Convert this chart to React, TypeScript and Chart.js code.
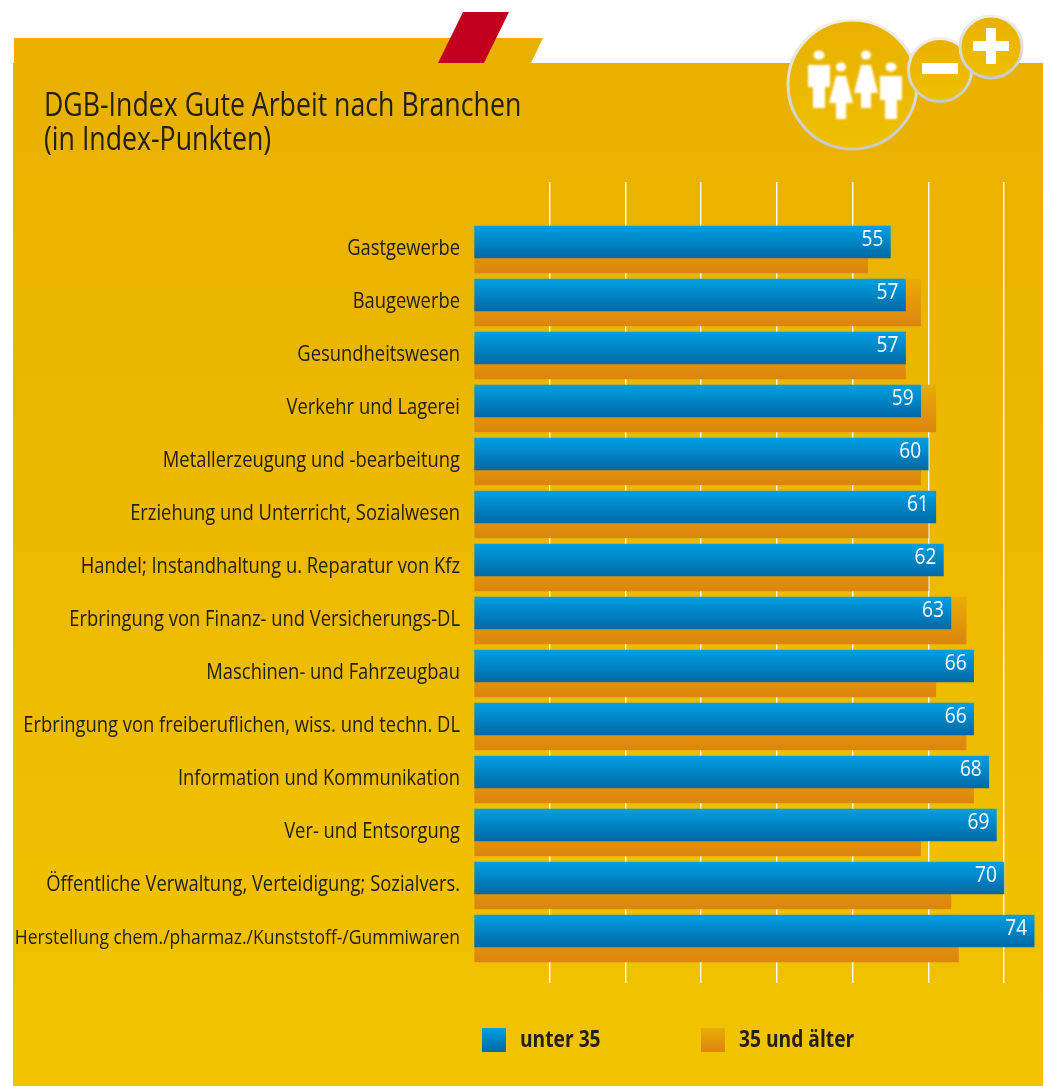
import React, { useEffect, useRef } from "react";
import { Chart, registerables } from "chart.js";

Chart.register(...registerables);

const categories = [
  "Gastgewerbe",
  "Baugewerbe",
  "Gesundheitswesen",
  "Verkehr und Lagerei",
  "Metallerzeugung und -bearbeitung",
  "Erziehung und Unterricht, Sozialwesen",
  "Handel; Instandhaltung u. Reparatur von Kfz",
  "Erbringung von Finanz- und Versicherungs-DL",
  "Maschinen- und Fahrzeugbau",
  "Erbringung von freiberuflichen, wiss. und techn. DL",
  "Information und Kommunikation",
  "Ver- und Entsorgung",
  "Öffentliche Verwaltung, Verteidigung; Sozialvers.",
  "Herstellung chem./pharmaz./Kunststoff-/Gummiwaren",
];
const unter35 = [55, 57, 57, 59, 60, 61, 62, 63, 66, 66, 68, 69, 70, 74];
const ab35 = [52, 59, 57, 61, 59, 60, 60, 65, 61, 65, 66, 59, 63, 64];
const seriesNames = ["unter 35", "35 und älter"];
const titleLines = ["DGB-Index Gute Arbeit nach Branchen", "(in Index-Punkten)"];

const FONT = '"Open Sans", sans-serif';
const LABEL_SQUEEZE = 0.875;

const backdrop = {
  id: "backdrop",
  beforeDraw(chart: any) {
    const c = chart.ctx;
    c.save();
    const bg = c.createLinearGradient(0, 38, 0, 1086);
    bg.addColorStop(0, "#e8b000");
    bg.addColorStop(1, "#f1c300");
    c.fillStyle = bg;
    c.beginPath();
    c.moveTo(14, 38);
    c.lineTo(543, 38);
    c.lineTo(531, 63);
    c.lineTo(1043, 63);
    c.lineTo(1043, 1086);
    c.lineTo(13, 1086);
    c.lineTo(13, 63);
    c.lineTo(14, 63);
    c.closePath();
    c.fill();
    c.fillStyle = "#c4001f";
    c.beginPath();
    c.moveTo(463, 12);
    c.lineTo(509, 12);
    c.lineTo(484, 63);
    c.lineTo(438, 63);
    c.closePath();
    c.fill();

    const disc = (x: number, y: number, r: number) => {
      c.beginPath();
      c.arc(x, y, r - 1.5, 0, Math.PI * 2);
      const g = c.createLinearGradient(x, y - r, x, y + r);
      g.addColorStop(0, "#e8b000");
      g.addColorStop(1, "#eec000");
      c.fillStyle = g;
      c.fill();
      c.lineWidth = 3;
      const s = c.createLinearGradient(x, y - r, x, y + r);
      s.addColorStop(0, "#f0f0ec");
      s.addColorStop(1, "#c8c8c4");
      c.strokeStyle = s;
      c.stroke();
    };
    disc(852.5, 84.5, 66);
    c.fillStyle = "#fff";
    c.filter = "blur(0.8px)";
    const person = (x: number, headY: number, bodyTop: number, skirtY: number, bottom: number, dress: boolean) => {
      c.beginPath();
      c.ellipse(x, headY, dress ? 5 : 5.5, 4.5, 0, 0, Math.PI * 2);
      c.fill();
      c.beginPath();
      if (dress) {
        c.moveTo(x - 5, bodyTop);
        c.lineTo(x + 5, bodyTop);
        c.lineTo(x + 12, skirtY);
        c.lineTo(x + 5, skirtY);
        c.lineTo(x + 5, bottom);
        c.lineTo(x - 5, bottom);
        c.lineTo(x - 5, skirtY);
        c.lineTo(x - 12, skirtY);
      } else {
        c.moveTo(x - 11, bodyTop);
        c.lineTo(x + 11, bodyTop);
        c.lineTo(x + 11, skirtY);
        c.lineTo(x + 6, skirtY);
        c.lineTo(x + 6, bottom);
        c.lineTo(x - 6, bottom);
        c.lineTo(x - 6, skirtY);
        c.lineTo(x - 11, skirtY);
      }
      c.closePath();
      c.fill();
    };
    person(819, 55, 65, 87, 108, false);
    person(841, 67, 76, 103, 119, true);
    person(866, 55, 65, 93, 108, true);
    person(891, 67, 76, 100, 119, false);
    c.filter = "none";
    disc(940, 70, 33);
    disc(991, 47, 32.5);
    c.fillStyle = "#fff";
    c.fillRect(922, 63, 36, 11);
    c.fillRect(973, 41, 36, 10);
    c.fillRect(986, 28, 10, 36);
    c.restore();
  },
};

const barGradients = {
  id: "barGradients",
  beforeDatasetsDraw(chart: any) {
    chart.data.datasets.forEach((ds: any, d: number) => {
      chart.getDatasetMeta(d).data.forEach((bar: any) => {
        const half = bar.height / 2;
        const g = chart.ctx.createLinearGradient(0, bar.y - half, 0, bar.y + half);
        g.addColorStop(0, ds.gradientTop);
        g.addColorStop(1, ds.gradientBottom);
        bar.options = Object.assign({}, bar.options, { backgroundColor: g });
      });
    });
  },
};

const valueLabels = {
  id: "valueLabels",
  afterDatasetsDraw(chart: any) {
    const c = chart.ctx;
    const meta = chart.getDatasetMeta(1);
    c.font = `22.5px ${FONT}`;
    c.fillStyle = "#fff";
    c.textAlign = "right";
    c.textBaseline = "middle";
    meta.data.forEach((bar: any, i: number) => {
      c.save();
      c.translate(bar.x - 7, bar.y - 2);
      c.scale(0.85, 1);
      c.fillText(String(unter35[i]), 0, 0);
      c.restore();
    });
  },
};

const SHIFT = 0.1415;
const Y_MIN = -1.132;
const Y_MAX = 13.981;

export default function App() {
  const ref = useRef<HTMLCanvasElement>(null);
  useEffect(() => {
    document.body.style.margin = "0";
    const chart = new Chart(ref.current as HTMLCanvasElement, {
      type: "bar",
      data: {
        datasets: [
          {
            label: seriesNames[1],
            data: ab35.map((x, y) => ({ x, y })),
            yAxisID: "y2",
            grouped: false,
            barThickness: 47,
            backgroundColor: "#e39a0a",
            gradientTop: "#e9ac06",
            gradientBottom: "#db850f",
            order: 2,
          },
          {
            label: seriesNames[0],
            data: unter35.map((x, y) => ({ x, y })),
            yAxisID: "y",
            grouped: false,
            barThickness: 32,
            backgroundColor: "#0084c4",
            gradientTop: "#00a0e3",
            gradientBottom: "#0068a5",
            order: 1,
          },
        ],
      } as any,
      options: {
        indexAxis: "y",
        responsive: false,
        animation: false,
        devicePixelRatio: 1,
        layout: { padding: { top: 182, bottom: 103, right: 6.25, left: 0 } },
        plugins: { legend: { display: false }, title: { display: false }, tooltip: { enabled: false } },
        scales: {
          x: {
            type: "linear",
            bounds: "data",
            min: 0,
            max: 75,
            afterFit: (s: any) => { s.height = 0; },
            border: { display: false },
            ticks: { display: false, stepSize: 10, includeBounds: false },
            grid: {
              drawTicks: false,
              lineWidth: 1.4,
              color: (ctx: any) => {
                const v = ctx.tick ? ctx.tick.value : 0;
                return v === 0 || v % 10 !== 0 ? "rgba(0,0,0,0)" : "#ffffff";
              },
            },
          },
          y: {
            type: "linear",
            bounds: "data",
            offset: false,
            display: false,
            reverse: true,
            min: Y_MIN,
            max: Y_MAX,
          },
          y2: {
            type: "linear",
            bounds: "data",
            offset: false,
            position: "left",
            reverse: true,
            min: Y_MIN - SHIFT,
            max: Y_MAX - SHIFT,
            afterFit: (s: any) => {
              s.width = 474;
              if (!s.__squeezed) {
                s.__squeezed = true;
                const original = s.drawLabels.bind(s);
                s._computeLabelArea = () => null;
                s.drawLabels = (area: any) => {
                  const c = s.ctx;
                  const anchor = 460;
                  c.save();
                  c.translate(anchor, 0);
                  c.scale(LABEL_SQUEEZE, 1);
                  c.translate(-anchor, 0);
                  original(area);
                  c.restore();
                };
              }
            },
            afterBuildTicks: (s: any) => { s.ticks = categories.map((_, i) => ({ value: i })); },
            border: { display: false },
            grid: { display: false, drawTicks: false },
            ticks: {
              autoSkip: false,
              padding: 14,
              color: "#222018",
              font: (ctx: any) => ({ family: FONT, size: ctx.index === categories.length - 1 ? 20 : 21 }),
              callback: (v: any) => categories[v],
            },
          },
        },
      } as any,
      plugins: [backdrop, barGradients, valueLabels],
    });
    return () => chart.destroy();
  }, []);

  const swatch = (left: number, top: string, bottom: string) => (
    <div style={{ position: "absolute", left, top: 1028, width: 24, height: 24, background: `linear-gradient(${top}, ${bottom})` }} />
  );
  const legendText = (left: number, text: string) => (
    <div style={{ position: "absolute", left, top: 1024, fontFamily: FONT, fontWeight: 700, fontSize: 23, lineHeight: "28px", color: "#222018", whiteSpace: "nowrap", transform: "scaleX(0.835)", transformOrigin: "left center" }}>{text}</div>
  );

  return (
    <div style={{ position: "relative", width: 1048, height: 1086, overflow: "hidden" }}>
      <canvas ref={ref} width={1048} height={1086} style={{ position: "absolute", left: 0, top: 0, display: "block" }} />
      <div style={{ position: "absolute", left: 44, top: 87, fontFamily: FONT, fontSize: 32, lineHeight: "34px", color: "#222018", whiteSpace: "nowrap", transform: "scaleX(0.834)", transformOrigin: "left center" }}>
        {titleLines.map((t) => (<div key={t}>{t}</div>))}
      </div>
      {swatch(482, "#00a0e3", "#0068a5")}
      {legendText(520, seriesNames[0])}
      {swatch(701, "#e9ac06", "#db850f")}
      {legendText(739, seriesNames[1])}
    </div>
  );
}
